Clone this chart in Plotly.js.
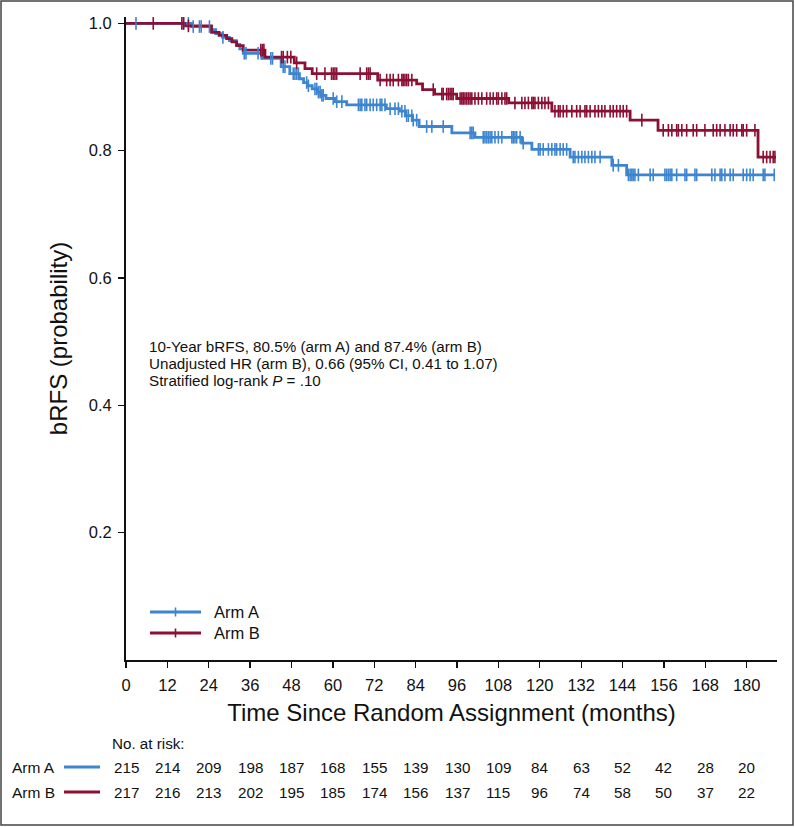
<!DOCTYPE html>
<html>
<head>
<meta charset="utf-8">
<script src="https://cdn.plot.ly/plotly-3.0.1.min.js"></script>
<style>
  html, body { margin: 0; padding: 0; background: #fff; }
  #chart { width: 795px; height: 827px; }
</style>
</head>
<body>
<div id="chart"></div>
<script>
// ---------- Data ----------
// Arm A: step times (months) and survival after each step
var armA_time = [0, 19, 24.5, 26, 28, 30, 32, 33, 34, 39.5, 45, 47.5, 50.3, 51.5, 52.6, 54, 55.5, 56.5, 58, 60.5, 64, 75.5, 79.3, 81, 83, 85, 94.5, 101.2, 114.8, 117.7, 128.8, 140.9, 145.2, 188];
var armA_surv = [1.0, 0.995, 0.99, 0.984, 0.978, 0.973, 0.967, 0.96, 0.953, 0.945, 0.932, 0.921, 0.913, 0.907, 0.902, 0.897, 0.892, 0.887, 0.882, 0.877, 0.872, 0.866, 0.862, 0.855, 0.848, 0.838, 0.828, 0.821, 0.812, 0.802, 0.79, 0.777, 0.762, 0.762];
// Arm A censored times
var armA_cens = [2.9, 16.7, 18.1, 19.5, 21.3, 21.8, 24.2, 28.1, 34.3, 34.8, 38.3, 39.2, 42, 42.5, 45.6, 46.1,
  48.5, 49, 49.5, 50, 52.4, 52.9, 54.8, 55.3, 55.8, 56.3, 56.8, 57.2, 60.1, 61.1, 62.6, 67.4, 67.9, 68.4, 69.3, 69.8,
  70.8, 71.7, 72.7, 73.7, 74.2, 75.1, 76.6, 78, 79, 80, 80.9, 81.4, 81.9, 82.9, 83.3, 84.3, 87.2, 88.7, 92, 99.8,
  100.3, 100.7, 103.6, 104.1, 104.6, 105.1, 105.6, 106.1, 107, 108, 109, 111.9, 112.3, 112.8, 113.3, 114.3, 115.2,
  119.6, 120.1, 121, 122.5, 123.5, 124.4, 124.9, 125.9, 126.8, 127.8, 129.7, 130.2, 131.2, 132.2, 133.1, 134.1,
  135.1, 136, 137.5, 141.3, 142.8, 145.7, 146.2, 146.7, 147.1, 147.6, 148.6, 152, 152.9, 156.3, 156.8, 157.3,
  157.8, 158.3, 159.7, 162.1, 162.6, 165, 165.5, 169.9, 170.8, 172.3, 172.8, 173.7, 175.2, 176.1, 179, 180, 181,
  181.9, 184.8, 185.3, 188];

// Arm B
var armB_time = [0, 17, 24.8, 27, 29.2, 30.7, 32.1, 34, 40.3, 48.8, 51.9, 54, 73, 84.3, 86, 89.5, 95.9, 111, 123.5, 146.2, 154.3, 183.3, 188.5];
var armB_surv = [1.0, 0.996, 0.986, 0.981, 0.976, 0.971, 0.965, 0.958, 0.947, 0.938, 0.929, 0.921, 0.911, 0.905, 0.896, 0.889, 0.882, 0.875, 0.862, 0.848, 0.832, 0.79, 0.79];
var armB_cens = [7.9, 16.2, 16.7, 18.1, 39.1, 39.6, 40, 45.1, 45.6, 46.8, 47.8, 49.5, 55.3, 57.7, 59.6, 60.1, 60.6,
  61.1, 67.9, 69.8, 70.3, 70.8, 73.7, 75.6, 76.6, 77.5, 79, 80, 80.4, 80.9, 81.4, 81.9, 82.9, 89.1, 91.6, 92, 93,
  93.5, 94, 94.5, 94.9, 96.9, 97.4, 97.8, 98.3, 98.8, 99.3, 99.8, 100.3, 101.2, 102.2, 103.2, 104.6, 105.6, 106.5,
  107.5, 108, 109, 109.9, 110.4, 112.8, 114.8, 115.7, 116.7, 117.7, 118.1, 118.6, 119.6, 120.6, 121.5, 122.5,
  124.4, 125.4, 125.9, 126.8, 127.8, 129.3, 130.7, 131.7, 133.1, 133.6, 134.6, 136, 137, 138, 138.9, 140.4, 141.3,
  142.3, 143.3, 144.2, 145.2, 149.6, 155.8, 157.3, 158.3, 159.7, 160.2, 161.2, 162.6, 164.5, 165.5, 167.9, 170.3,
  171.3, 172.3, 173.7, 175.2, 176.1, 177.1, 178.6, 179, 180, 182.4, 184.8, 185.8, 186.8, 187.7, 188.2];

// Number at risk
var riskTimes = [0, 12, 24, 36, 48, 60, 72, 84, 96, 108, 120, 132, 144, 156, 168, 180];
var riskA = [215, 214, 209, 198, 187, 168, 155, 139, 130, 109, 84, 63, 52, 42, 28, 20];
var riskB = [217, 216, 213, 202, 195, 185, 174, 156, 137, 115, 96, 74, 58, 50, 37, 22];

var armNames = ["Arm A", "Arm B"];
var xTickVals = [0, 12, 24, 36, 48, 60, 72, 84, 96, 108, 120, 132, 144, 156, 168, 180];
var yTickVals = [0.2, 0.4, 0.6, 0.8, 1.0];
var yTickText = ["0.2", "0.4", "0.6", "0.8", "1.0"];

var statsLines = [
  "10-Year bRFS, 80.5% (arm A) and 87.4% (arm B)",
  "Unadjusted HR (arm B), 0.66 (95% CI, 0.41 to 1.07)",
  "Stratified log-rank <i>P</i> = .10"
];

// ---------- Styling ----------
var colA = "#3d85d0";
var colB = "#8b1034";
var colors = [colA, colB];
var FONT = "'Liberation Sans', Arial, Helvetica, sans-serif";

function survAt(times, surv, t) {
  var s = surv[0];
  for (var i = 0; i < times.length; i++) {
    if (times[i] <= t) s = surv[i]; else break;
  }
  return s;
}

function curveTrace(name, times, surv, color) {
  return { name: name, x: times, y: surv, type: "scatter", mode: "lines",
    line: { shape: "hv", color: color, width: 2.8 }, showlegend: false, hoverinfo: "skip" };
}
function censTrace(name, cens, times, surv, color) {
  return { name: name + " censored", x: cens, y: cens.map(function (t) { return survAt(times, surv, t); }),
    type: "scatter", mode: "markers", showlegend: false, hoverinfo: "skip",
    marker: { symbol: "line-ns-open", size: 9, color: color, line: { color: color, width: 1.6 } } };
}

var data = [
  curveTrace(armNames[0], armA_time, armA_surv, colA),
  curveTrace(armNames[1], armB_time, armB_surv, colB),
  censTrace(armNames[0], armA_cens, armA_time, armA_surv, colA),
  censTrace(armNames[1], armB_cens, armB_time, armB_surv, colB)
];

var plotW = 651, plotH = 643, mL = 126, mT = 17;
function px2paperX(px) { return (px - mL) / plotW; }
function py2paperY(py) { return (mT + plotH - py) / plotH; }

var annotations = [];
var shapes = [
  // outer frame
  { type: "rect", xref: "paper", yref: "paper",
    x0: px2paperX(1), x1: px2paperX(793), y0: py2paperY(825), y1: py2paperY(1),
    line: { color: "#444", width: 1.5 }, fillcolor: "rgba(0,0,0,0)" }
];

// stats text (one annotation per line for tight spacing)
var statsY = [346, 363, 380];
for (var s = 0; s < statsLines.length; s++) {
  annotations.push({ xref: "paper", yref: "paper", x: px2paperX(147), y: py2paperY(statsY[s]),
    xanchor: "left", yanchor: "middle", align: "left", showarrow: false,
    text: statsLines[s], font: { family: FONT, size: 15.2, color: "#111" } });
}

// legend (drawn manually to match the long line samples)
var legY = [612, 633];
for (var g = 0; g < 2; g++) {
  shapes.push({ type: "line", xref: "paper", yref: "paper", x0: px2paperX(150), x1: px2paperX(201),
    y0: py2paperY(legY[g]), y1: py2paperY(legY[g]), line: { color: colors[g], width: 2.8 } });
  shapes.push({ type: "line", xref: "paper", yref: "paper", x0: px2paperX(175.5), x1: px2paperX(175.5),
    y0: py2paperY(legY[g] - 4.5), y1: py2paperY(legY[g] + 4.5), line: { color: colors[g], width: 1.6 } });
  annotations.push({ xref: "paper", yref: "paper", x: px2paperX(212), y: py2paperY(legY[g]),
    xanchor: "left", yanchor: "middle", showarrow: false,
    text: armNames[g], font: { family: FONT, size: 16.5, color: "#111" } });
}

// No. at risk
annotations.push({ xref: "paper", yref: "paper", x: px2paperX(110), y: py2paperY(743),
  xanchor: "left", yanchor: "middle", showarrow: false,
  text: "No. at risk:", font: { family: FONT, size: 15.2, color: "#111" } });
var rowY = [767, 792];
var risks = [riskA, riskB];
for (var r = 0; r < 2; r++) {
  annotations.push({ xref: "paper", yref: "paper", x: px2paperX(10), y: py2paperY(rowY[r]),
    xanchor: "left", yanchor: "middle", showarrow: false,
    text: armNames[r], font: { family: FONT, size: 15.5, color: "#111" } });
  shapes.push({ type: "line", xref: "paper", yref: "paper", x0: px2paperX(64), x1: px2paperX(100),
    y0: py2paperY(rowY[r]), y1: py2paperY(rowY[r]), line: { color: colors[r], width: 2.8 } });
  for (var k = 0; k < riskTimes.length; k++) {
    annotations.push({ xref: "x", yref: "paper", x: riskTimes[k], y: py2paperY(rowY[r]),
      xanchor: "center", yanchor: "middle", showarrow: false,
      text: String(risks[r][k]), font: { family: FONT, size: 15.2, color: "#111" } });
  }
}

var layout = {
  width: 795, height: 827,
  margin: { l: mL, r: 795 - mL - plotW, t: mT, b: 827 - mT - plotH },
  paper_bgcolor: "#fff", plot_bgcolor: "#fff",
  font: { family: FONT, color: "#111" },
  showlegend: false,
  xaxis: {
    range: [0, 188.8], tickvals: xTickVals, ticktext: xTickVals.map(String),
    showgrid: false, zeroline: false, showline: true, linecolor: "#111", linewidth: 2,
    ticks: "outside", ticklen: 6, tickwidth: 1.3, tickcolor: "#111", ticklabelstandoff: 3,
    tickfont: { family: FONT, size: 16.5, color: "#111" },
    title: { text: "Time Since Random Assignment (months)", font: { family: FONT, size: 24, color: "#111" }, standoff: 11 },
    automargin: false, fixedrange: true
  },
  yaxis: {
    range: [0, 1.01], tickvals: yTickVals, ticktext: yTickText,
    showgrid: false, zeroline: false, showline: true, linecolor: "#111", linewidth: 2,
    ticks: "outside", ticklen: 6, tickwidth: 1.3, tickcolor: "#111", ticklabelstandoff: 3,
    tickfont: { family: FONT, size: 16.5, color: "#111" },
    title: { text: "bRFS (probability)", font: { family: FONT, size: 24, color: "#111" }, standoff: 14 },
    automargin: false, fixedrange: true
  },
  annotations: annotations,
  shapes: shapes
};

Plotly.newPlot("chart", data, layout, { displayModeBar: false, staticPlot: true });
</script>
</body>
</html>
